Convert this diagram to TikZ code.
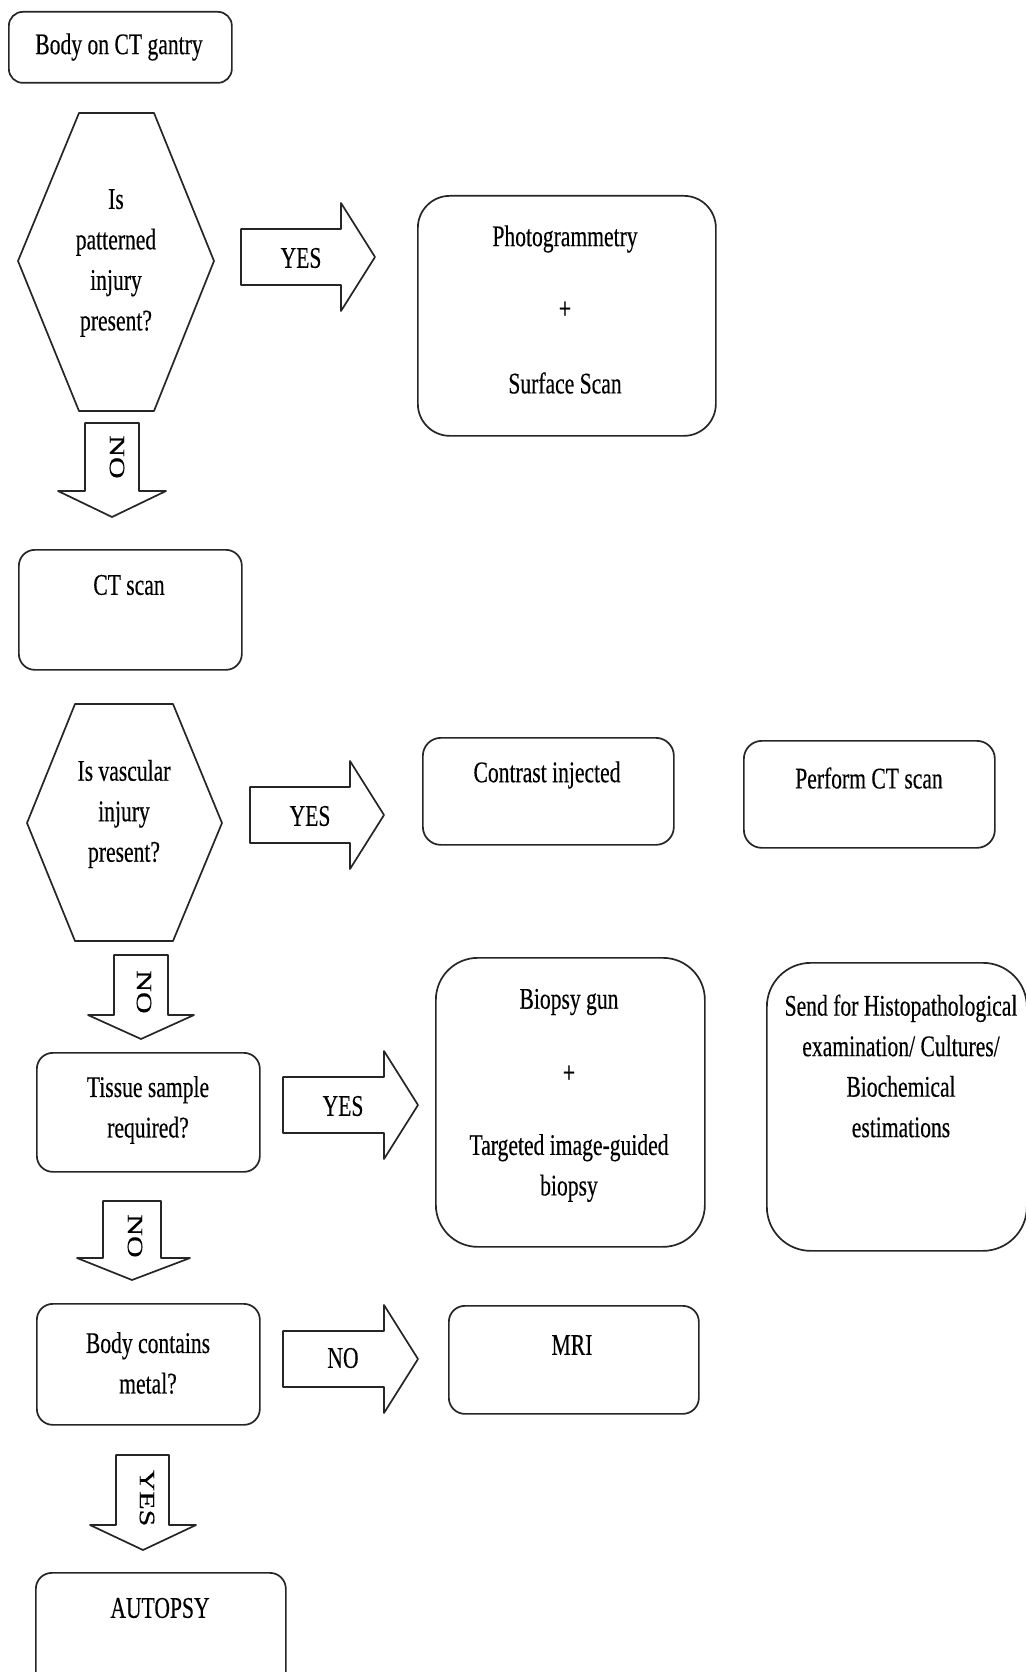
\documentclass[tikz,border=0pt]{standalone}
\usepackage{fontspec}
\setmainfont{Liberation Serif}[FakeStretch=0.72,FakeBold=0.3]
\newfontfamily\rotfont{Liberation Serif}[FakeBold=0.3]
\begin{document}
\begin{tikzpicture}[x=1pt,y=-1pt,
  lw/.style={line width=1.7pt, draw=black!85, line join=round},
  box/.style={lw, rounded corners=#1, inner sep=0pt, anchor=north west},
  box/.default=16pt,
  hexa/.style={lw},
  barrow/.style={lw, fill=white},
  lbl/.style={font=\fontsize{30}{40.5}\selectfont, align=center, inner sep=0pt},
  rlbl/.style={inner sep=0pt, rotate=-90}
]
\useasboundingbox (0,0) rectangle (1025,1672);
\fill[white] (0,0) rectangle (1025,1672);

% ---------- boxes ----------
\node[box=14pt, minimum width=223pt, minimum height=71pt] (gantry) at (8,11) {};
\node[lbl] (gantryt) at (119,47) {Body on CT gantry};

\node[box=32pt, minimum width=298pt, minimum height=240pt] (photo) at (417,195) {};
\node[lbl] (photot1) at (565,239) {Photogrammetry};
\node[lbl] (photot2) at (565,310) {+};
\node[lbl] (photot3) at (565,383) {Surface Scan};

\node[box=16pt, minimum width=223pt, minimum height=120pt] (ct) at (18,549) {};
\node[lbl] (ctt) at (129,585) {CT scan};

\node[box=18pt, minimum width=251pt, minimum height=107pt] (contrast) at (422,737) {};
\node[lbl] (contrastt) at (547,775) {Contrast injected};

\node[box=18pt, minimum width=251pt, minimum height=107pt] (perform) at (743,740) {};
\node[lbl] (performt) at (869,778) {Perform CT scan};

\node[box=42pt, minimum width=269pt, minimum height=289pt] (biopsy) at (435,957) {};
\node[lbl] (biopsyt1) at (569,1002) {Biopsy gun};
\node[lbl] (biopsyt2) at (569,1074) {+};
\node[lbl] (biopsyt3) at (569,1168) {Targeted image-guided\\biopsy};

\node[box=44pt, minimum width=260pt, minimum height=288pt] (send) at (766,962) {};
\node[lbl] (sendt) at (901,1066) {Send for Histopathological\\examination/ Cultures/\\Biochemical\\estimations};

\node[box=16pt, minimum width=223pt, minimum height=119pt] (tissue) at (36,1052) {};
\node[lbl] (tissuet) at (148,1110) {Tissue sample\\required?};

\node[box=16pt, minimum width=223pt, minimum height=121pt] (metal) at (36,1303) {};
\node[lbl] (metalt) at (148,1363) {Body contains\\metal?};

\node[box=16pt, minimum width=250pt, minimum height=108pt] (mri) at (448,1305) {};
\node[lbl] (mrit) at (572,1345) {MRI};

\node[box=16pt, minimum width=250pt, minimum height=130pt] (autopsy) at (35,1572) {};
\node[lbl] (autopsyt) at (160,1608) {AUTOPSY};

% ---------- hexagons ----------
\draw[hexa] (79,113) -- (154,113) -- (214,261) -- (154,411) -- (79,411) -- (18,261) -- cycle;
\node[lbl] (hex1t) at (116,263) {Is\\patterned\\injury\\present?};

\draw[hexa] (75,704) -- (173,704) -- (222,823) -- (173,941) -- (75,941) -- (27,823) -- cycle;
\node[lbl] (hex2t) at (124,814) {Is vascular\\injury\\present?};

% ---------- right block arrows ----------
\draw[barrow] (241,229) -- (341,229) -- (341,203) -- (375,257) -- (341,311) -- (341,285) -- (241,285) -- cycle;
\node[lbl] (yes1) at (301,258) {YES};

\draw[barrow] (250,787) -- (350,787) -- (350,761) -- (384,815) -- (350,869) -- (350,843) -- (250,843) -- cycle;
\node[lbl] (yes2) at (310,816) {YES};

\draw[barrow] (283,1077) -- (384,1077) -- (384,1051) -- (418,1105) -- (384,1159) -- (384,1133) -- (283,1133) -- cycle;
\node[lbl] (yes3) at (343,1106) {YES};

\draw[barrow] (283,1331) -- (384,1331) -- (384,1305) -- (418,1359) -- (384,1413) -- (384,1387) -- (283,1387) -- cycle;
\node[lbl] (no4) at (343,1358) {NO};

% ---------- down block arrows ----------
\draw[barrow] (85,423) -- (139,423) -- (139,491) -- (166,491) -- (112,517) -- (58,491) -- (85,491) -- cycle;
\node[rlbl] (no1) at (117,457) {\scalebox{1}[0.73]{\rotfont\fontsize{30}{36}\selectfont NO}};

\draw[barrow] (114,955) -- (168,955) -- (168,1015) -- (194,1015) -- (141,1039) -- (88,1015) -- (114,1015) -- cycle;
\node[rlbl] (no2) at (144,992) {\scalebox{1}[0.73]{\rotfont\fontsize{30}{36}\selectfont NO}};

\draw[barrow] (103,1201) -- (161,1201) -- (161,1258) -- (190,1258) -- (132,1280) -- (77,1258) -- (103,1258) -- cycle;
\node[rlbl] (no3) at (135,1236) {\scalebox{1}[0.73]{\rotfont\fontsize{30}{36}\selectfont NO}};

\draw[barrow] (116,1455) -- (169,1455) -- (169,1525) -- (196,1525) -- (143,1550) -- (90,1525) -- (116,1525) -- cycle;
\node[rlbl] (yes4) at (147,1498) {\scalebox{1}[0.73]{\rotfont\fontsize{30}{36}\selectfont YES}};
\end{tikzpicture}
\end{document}
